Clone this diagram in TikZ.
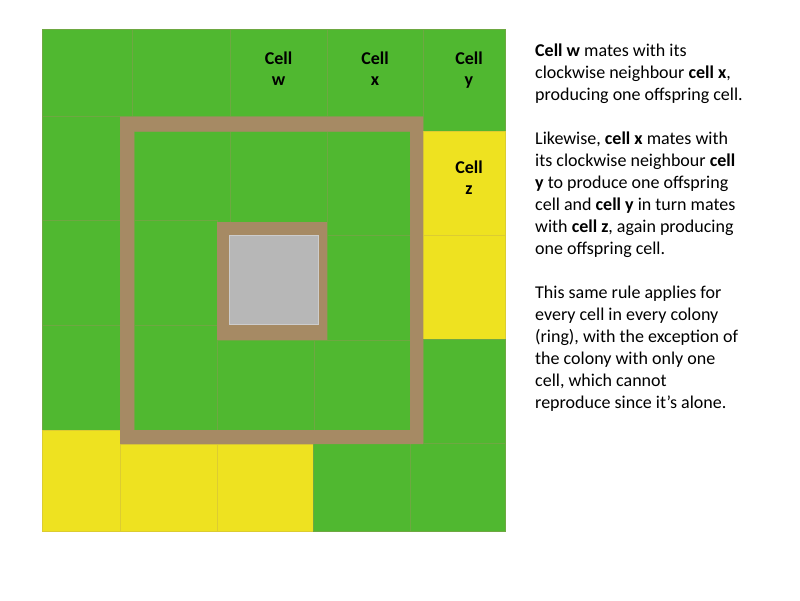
\documentclass[tikz,border=0pt]{standalone}
\usepackage{fontspec}
\setmainfont{Carlito}
\definecolor{cgreen}{RGB}{80,184,48}
\definecolor{cyellow}{RGB}{238,226,32}
\definecolor{cbrown}{RGB}{166,138,100}
\definecolor{cgrey}{RGB}{183,183,183}
\tikzset{
  gcell/.style={fill=cgreen,draw=cgreen!65!cbrown,line width=0.9pt},
  ycell/.style={fill=cyellow,draw=cyellow!75!cbrown,line width=0.9pt},
  ringfill/.style={fill=cbrown,even odd rule},
  lbl/.style={font=\bfseries\fontsize{18}{21.5}\selectfont,align=center,anchor=base,inner sep=0pt},
}
\begin{document}
\begin{tikzpicture}[x=1pt,y=-1pt]
\useasboundingbox (0,0) rectangle (800,600);
% top row
\draw[gcell] (42,29) rectangle (132,116.5);
\draw[gcell] (132,29) rectangle (230,116.5);
\draw[gcell] (230,29) rectangle (327,116.5);
\draw[gcell] (327,29) rectangle (423,116.5);
\draw[gcell] (423,29) rectangle (505,131);
% right column
\draw[ycell] (423,131) rectangle (505,235);
\draw[ycell] (423,235) rectangle (505,339);
\draw[gcell] (423,339) rectangle (505,443);
% left column
\draw[gcell] (42,116.5) rectangle (120,220);
\draw[gcell] (42,220) rectangle (120,325.5);
\draw[gcell] (42,325.5) rectangle (120,430);
\draw[ycell] (42,430) rectangle (120,531);
% bottom row
\draw[ycell] (120,444) rectangle (217,531);
\draw[ycell] (217,444) rectangle (313,531);
\draw[gcell] (313,443) rectangle (410,531);
\draw[gcell] (410,443) rectangle (505,531);
% inner cells
\draw[gcell] (134,131) rectangle (230,222);
\draw[gcell] (230,131) rectangle (327,222);
\draw[gcell] (327,131) rectangle (410,235);
\draw[gcell] (134,220) rectangle (217,325.5);
\draw[gcell] (327,235) rectangle (410,340);
\draw[gcell] (134,325.5) rectangle (217,430);
\draw[gcell] (217,340) rectangle (314,430);
\draw[gcell] (314,340) rectangle (410,430);
% outer ring
\path[ringfill] (120,116.5) rectangle (423,444) (134,131.5) rectangle (410,430);
% inner frame and single cell
\fill[cbrown] (216.7,221.7) rectangle (327.3,340);
\draw[fill=cgrey,draw=cgrey!70!white,line width=0.8pt] (229,235) rectangle (318,324);
% labels (anchor = baseline of last line)
\node[lbl] (w) at (278.5,85.5) {Cell\\w};
\node[lbl] (x) at (375,85.5) {Cell\\x};
\node[lbl] (y) at (469,85.5) {Cell\\y};
\node[lbl] (z) at (469,194.5) {Cell\\z};
% description (anchor = baseline of last line)
\node[anchor=base west,align=left,inner sep=0pt,font=\fontsize{18}{22}\selectfont] (txt) at (535,408) {%
\textbf{Cell w} mates with its\\
clockwise neighbour \textbf{cell x},\\
producing one offspring cell.\\[22pt]
Likewise, \textbf{cell x} mates with\\
its clockwise neighbour \textbf{cell}\\
\textbf{y} to produce one offspring\\
cell and \textbf{cell y} in turn mates\\
with \textbf{cell z}, again producing\\
one offspring cell.\\[22pt]
This same rule applies for\\
every cell in every colony\\
(ring), with the exception of\\
the colony with only one\\
cell, which cannot\\
reproduce since it’s alone.};
\end{tikzpicture}
\end{document}
